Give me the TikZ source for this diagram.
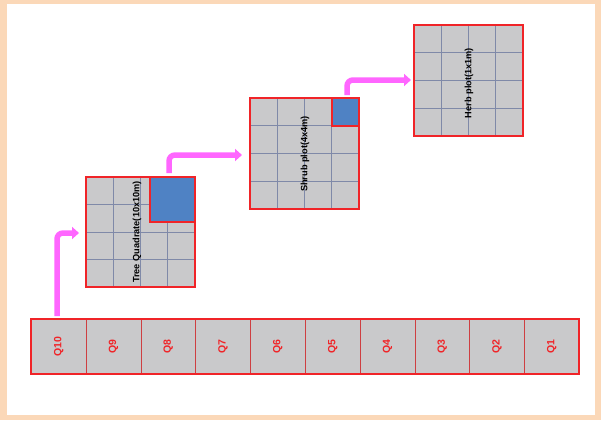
\documentclass[tikz,border=0pt]{standalone}
\usepackage{fontspec}
\setmainfont{Liberation Sans}
\usetikzlibrary{arrows.meta}
\definecolor{peach}{HTML}{FBD8B8}
\definecolor{cellgray}{HTML}{C9C9CB}
\definecolor{gridline}{HTML}{7F89A8}
\definecolor{bred}{HTML}{F02428}
\definecolor{qblue}{HTML}{4F82C4}
\definecolor{pink}{HTML}{FF66FF}
\tikzset{
  plotbox/.style={draw=bred,line width=1.4pt,fill=cellgray},
  gridl/.style={draw=gridline,line width=0.6pt},
  qcell/.style={draw=bred!70!gray,line width=0.5pt,fill=cellgray,minimum width=54.8pt,minimum height=55pt,inner sep=0pt,anchor=north west},
  qlabel/.style={text=bred,font=\bfseries\fontsize{10.5}{11}\selectfont,rotate=90},
  plotlabel/.style={font=\bfseries\fontsize{9.2}{10}\selectfont,rotate=90,inner sep=0pt},
  flow/.style={draw=pink,line width=5.5pt,rounded corners=6pt,-{Triangle[length=7pt,width=12pt]}}
}
\begin{document}
\begin{tikzpicture}[x=1pt,y=-1pt]
\fill[peach] (0,0) rectangle (601,420);
\fill[white] (7,4) rectangle (595,415);
\useasboundingbox (0,0) rectangle (601,420);
% bottom row
\foreach \i/\t in {0/Q10,1/Q9,2/Q8,3/Q7,4/Q6,5/Q5,6/Q4,7/Q3,8/Q2,9/Q1}{
  \node[qcell] (q\i) at ({31+54.8*\i},319) {};
  \node[qlabel] (ql\i) at (q\i.center) {\t};
}
\draw[bred,line width=1.4pt] (31,319) rectangle (579,374);
% box 1 tree
\path[plotbox] (86,177) rectangle (195,287);
\foreach \k in {1,2,3}{
  \draw[gridl] ({86+27.25*\k},177) -- ({86+27.25*\k},287);
  \draw[gridl] (86,{177+27.5*\k}) -- (195,{177+27.5*\k});
}
\fill[qblue] (150,177) rectangle (195,222);
\draw[bred,line width=1.4pt] (150,177) -- (150,222) -- (195,222);
\draw[bred,line width=1.4pt] (86,177) rectangle (195,287);
\node[plotlabel] (t1) at (137,232) {Tree Quadrate(10x10m)};
% box 2 shrub
\path[plotbox] (250,98) rectangle (359,209);
\foreach \k in {1,2,3}{
  \draw[gridl] ({250+27.25*\k},98) -- ({250+27.25*\k},209);
  \draw[gridl] (250,{98+27.75*\k}) -- (359,{98+27.75*\k});
}
\fill[qblue] (332,98) rectangle (359,126);
\draw[bred,line width=1.4pt] (332,98) -- (332,126) -- (359,126);
\draw[bred,line width=1.4pt] (250,98) rectangle (359,209);
\node[plotlabel] (t2) at (305,154) {Shrub plot(4x4m)};
% box 3 herb
\path[plotbox] (414,25) rectangle (523,136);
\foreach \k in {1,2,3}{
  \draw[gridl] ({414+27.25*\k},25) -- ({414+27.25*\k},136);
  \draw[gridl] (414,{25+27.75*\k}) -- (523,{25+27.75*\k});
}
\draw[bred,line width=1.4pt] (414,25) rectangle (523,136);
\node[plotlabel] (t3) at (469,83) {Herb plot(1x1m)};
% arrows
\coordinate (a1s) at (57,316);
\coordinate (a1e) at (79,233);
\coordinate (a2s) at (169,173);
\coordinate (a2e) at (242,155);
\coordinate (a3s) at (347,95);
\coordinate (a3e) at (411,80);
\draw[flow] (a1s) |- (a1e);
\draw[flow] (a2s) |- (a2e);
\draw[flow] (a3s) |- (a3e);
\end{tikzpicture}
\end{document}
